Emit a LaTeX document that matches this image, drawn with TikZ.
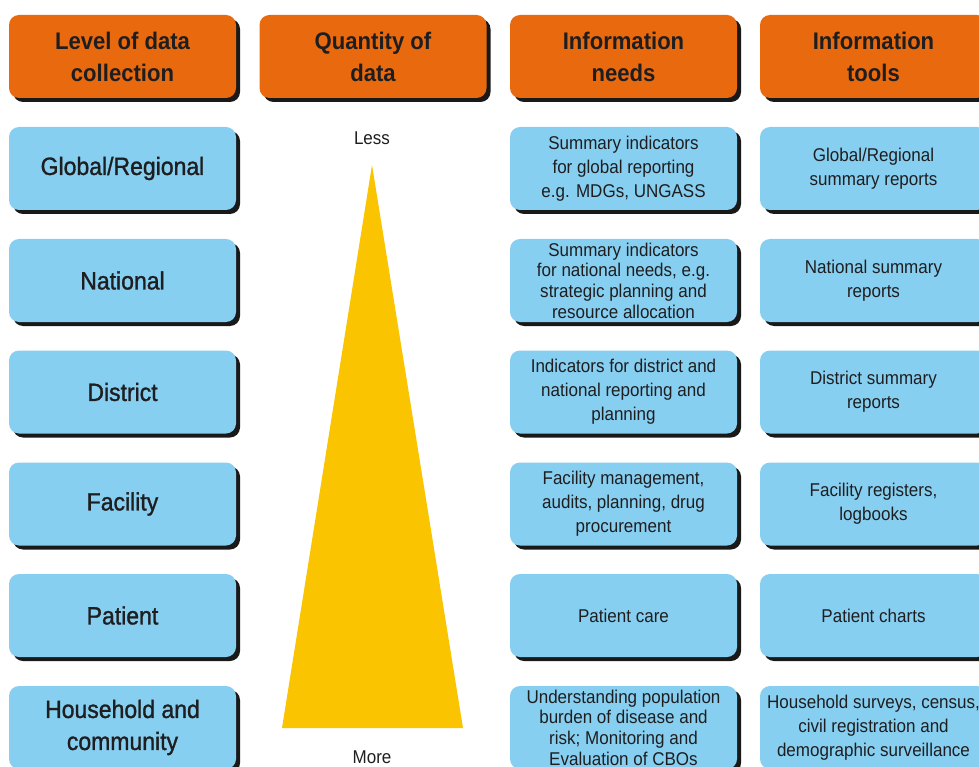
\documentclass[tikz,border=0pt]{standalone}
\usepackage{fontspec}
\setmainfont[FakeStretch=0.92]{Liberation Sans}
\newfontfamily\levelfont[FakeStretch=0.92,FakeBold=1.2]{Liberation Sans}
\usepackage{xcolor}
\usepackage{tikz}
\usetikzlibrary{shadows,positioning}
\definecolor{hdorange}{RGB}{232,105,14}
\definecolor{cellblue}{RGB}{135,207,240}
\definecolor{pyryellow}{RGB}{250,196,0}
\definecolor{txtgray}{RGB}{30,30,32}
\tikzset{
	cell/.style={rounded corners=10pt, minimum width=227pt, minimum height=83pt, inner sep=2pt,
		align=center, text=txtgray,
		drop shadow={shadow xshift=4pt, shadow yshift=-4pt, fill=black!90, opacity=1}},
	headcell/.style={cell, fill=hdorange, font=\fontsize{24}{32}\selectfont\bfseries},
	levelcell/.style={cell, fill=cellblue, font=\levelfont\fontsize{25}{32}\selectfont},
	infocell/.style={cell, fill=cellblue, font=\fontsize{18.5}{24}\selectfont},
	tightcell/.style={cell, fill=cellblue, font=\fontsize{18.5}{20.7}\selectfont},
}
\begin{document}
\begin{tikzpicture}[x=1pt,y=-1pt]
		\useasboundingbox (0,0) rectangle (979,767);
		% headers
		\node[headcell] (hlevel) at (122.5,56.5) {Level of data\\collection};
		\node[headcell] (hquant) at (373,56.5) {Quantity of\\data};
		\node[headcell] (hneeds) at (623.5,56.5) {Information\\needs};
		\node[headcell] (htools) at (873.5,56.5) {Information\\tools};
		% levels
		\node[levelcell] (global) at (122.5,168.5) {Global/Regional};
		\node[levelcell] (national) at (122.5,280.5) {National};
		\node[levelcell] (district) at (122.5,392) {District};
		\node[levelcell] (facility) at (122.5,504) {Facility};
		\node[levelcell] (patient) at (122.5,615.5) {Patient};
		\node[levelcell] (household) at (122.5,727.5) {Household and\\community};
		% quantity of data
		\fill[pyryellow] (372,165) -- (463,728) -- (282,728) -- cycle;
		\node[text=txtgray,font=\fontsize{18.5}{24}\selectfont] (less) at (372,138) {Less};
		\node[text=txtgray,font=\fontsize{18.5}{24}\selectfont] (more) at (372,757) {More};
		% information needs
		\node[infocell] (nglobal) at (623.5,168.5) {Summary indicators\\for global reporting\\e.g. MDGs, UNGASS};
		\node[tightcell] (nnational) at (623.5,280.5) {Summary indicators\\for national needs, e.g.\\strategic planning and\\resource allocation};
		\node[infocell] (ndistrict) at (623.5,392) {Indicators for district and\\national reporting and\\planning};
		\node[infocell] (nfacility) at (623.5,504) {Facility management,\\audits, planning, drug\\procurement};
		\node[infocell] (npatient) at (623.5,615.5) {Patient care};
		\node[tightcell] (nhousehold) at (623.5,727.5) {Understanding population\\burden of disease and\\risk; Monitoring and\\Evaluation of CBOs};
		% information tools
		\node[infocell] (tglobal) at (873.5,168.5) {Global/Regional\\summary reports};
		\node[infocell] (tnational) at (873.5,280.5) {National summary\\reports};
		\node[infocell] (tdistrict) at (873.5,392) {District summary\\reports};
		\node[infocell] (tfacility) at (873.5,504) {Facility registers,\\logbooks};
		\node[infocell] (tpatient) at (873.5,615.5) {Patient charts};
		\node[infocell] (thousehold) at (873.5,727.5) {Household surveys, census,\\civil registration and\\demographic surveillance};
	\end{tikzpicture}
\end{document}
